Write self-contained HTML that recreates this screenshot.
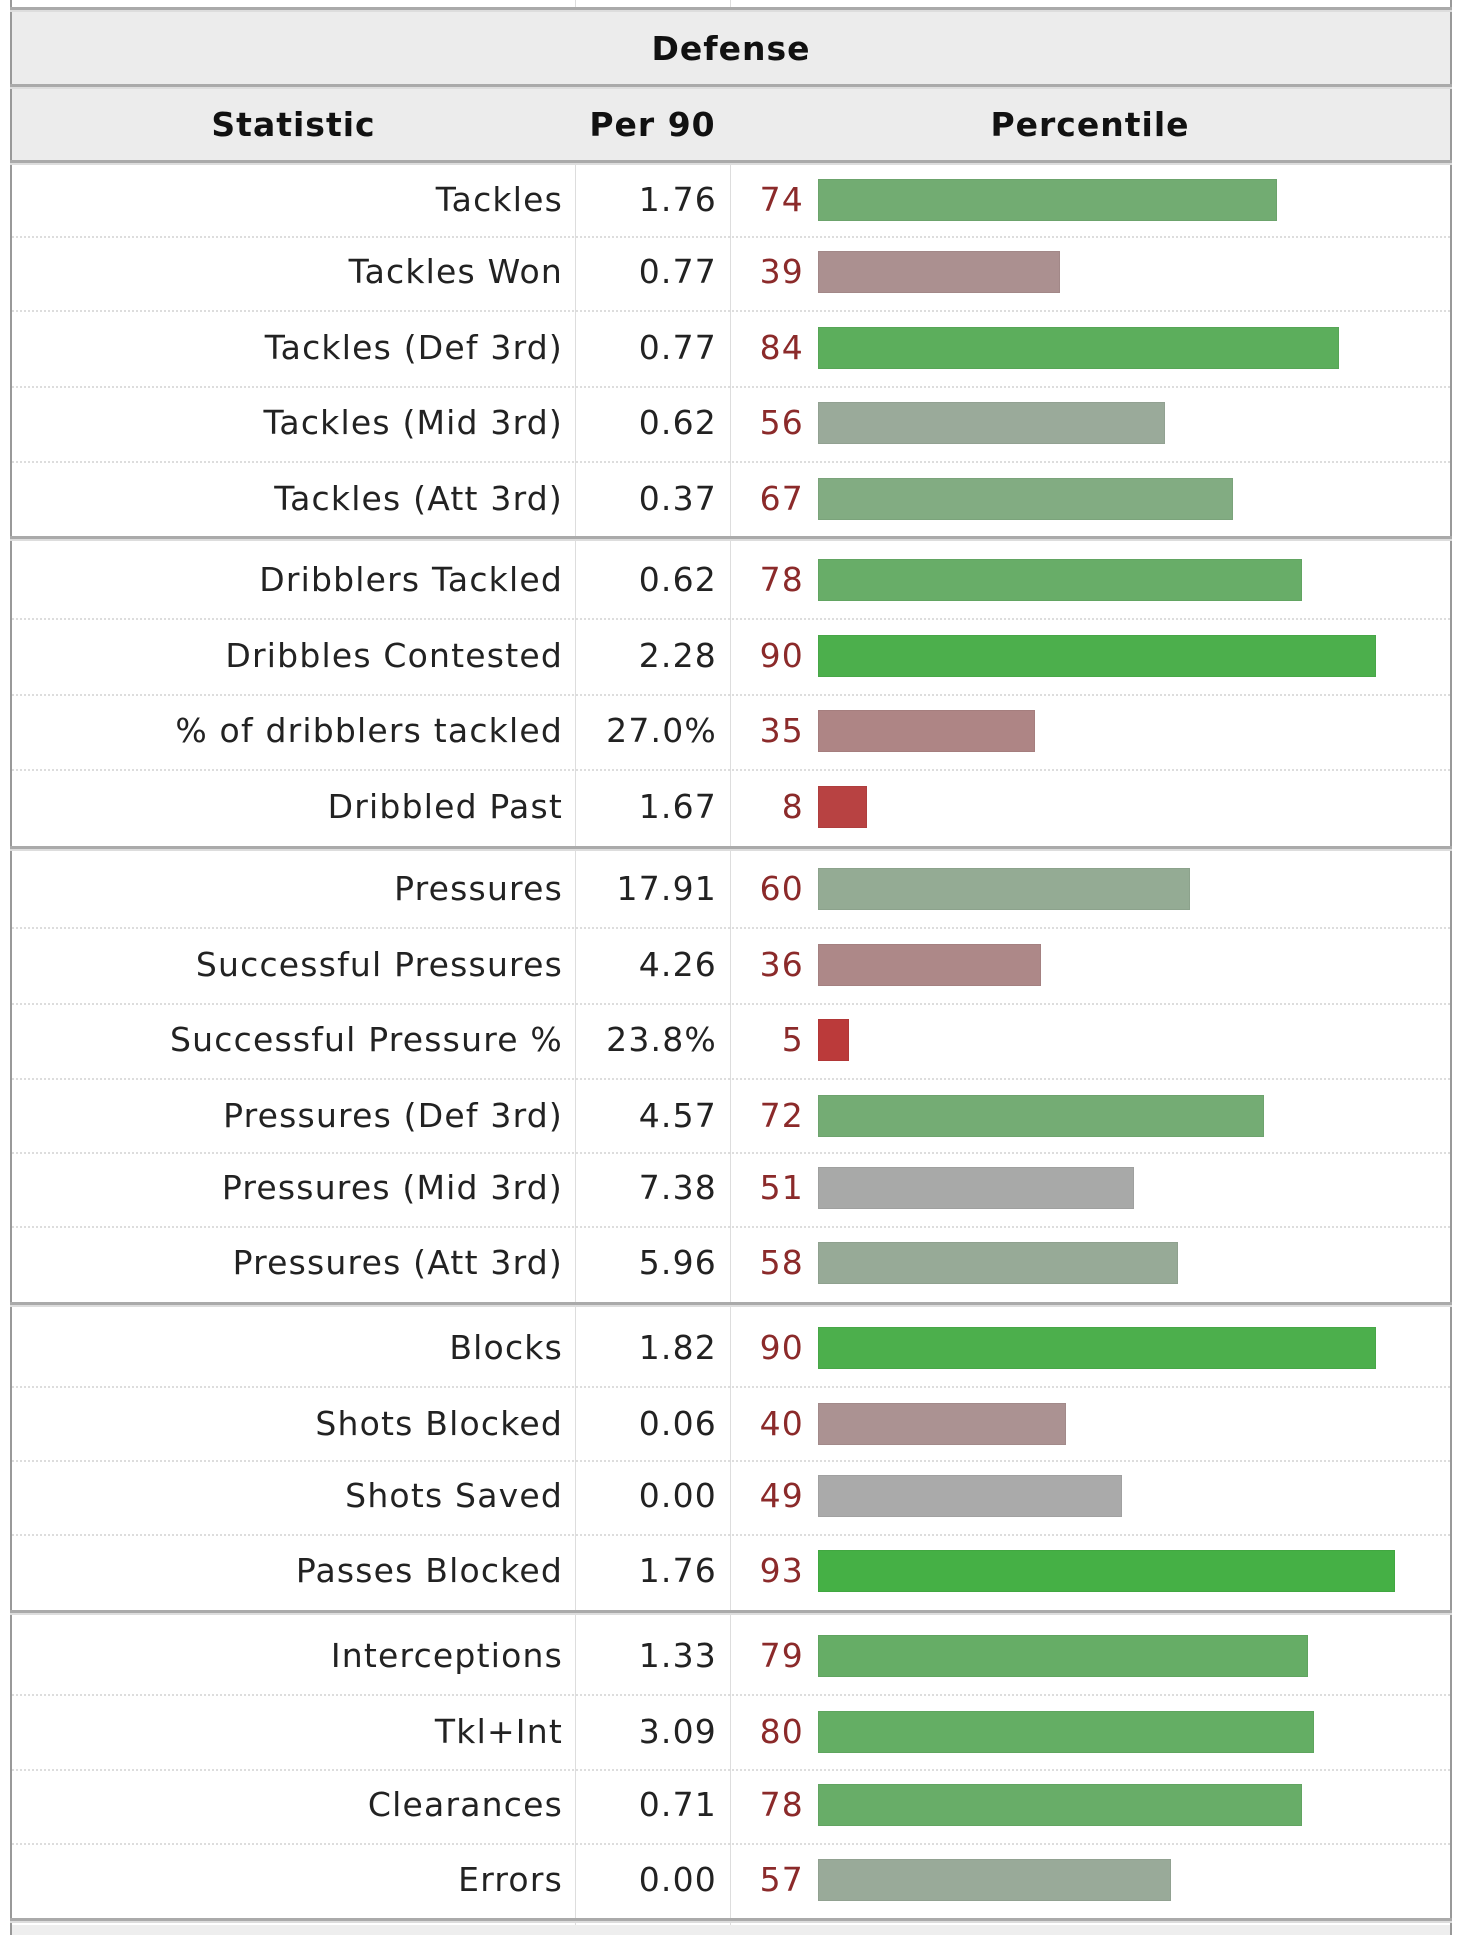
<!DOCTYPE html><html><head><style>
body{margin:0;width:1460px;height:1935px;background:#fff;position:relative;overflow:hidden;font-family:"DejaVu Sans","Liberation Sans",sans-serif;font-size:33px;letter-spacing:1.2px;color:#222}
div{position:absolute;box-sizing:border-box}
.hd{background:#ececec;font-weight:bold;text-align:center;color:#111;letter-spacing:1px}
.v{top:0;height:1935px;width:1px;background:#ddd}
.t{left:10px;width:1442px;height:5px;background:#aaa;border-bottom:2px solid #ddd}
.d{left:12px;width:1438px;height:0;border-top:2px dotted #ddd}
.r{left:0;width:1460px;height:42px;line-height:42px}
.s{left:0;width:563px;text-align:right}
.p{left:575px;width:142px;text-align:right}
.n{left:730px;width:74px;text-align:right;color:#8b2a2a}
.b{left:818px;top:0;height:42px;border:1px solid rgba(0,0,0,0.05)}
</style></head><body>
<div style="left:10px;top:0;width:1442px;height:1935px;border-left:2px solid #999;border-right:2px solid #999"></div>
<div class="v" style="left:575px"></div><div class="v" style="left:730px"></div>
<div class="hd" style="left:12px;top:12px;width:1438px;height:73px;line-height:73px">Defense</div>
<div class="hd" style="left:12px;top:89px;width:1438px;height:72px;line-height:72px"></div>
<div class="hd" style="left:12px;top:89px;width:563px;height:72px;line-height:72px;background:transparent">Statistic</div>
<div class="hd" style="left:575px;top:89px;width:155px;height:72px;line-height:72px;background:transparent">Per 90</div>
<div class="hd" style="left:730px;top:89px;width:720px;height:72px;line-height:72px;background:transparent">Percentile</div>
<div class="t" style="top:7px"></div><div class="t" style="top:84px"></div><div class="t" style="top:160px"></div>
<div class="t" style="top:536px"></div><div class="t" style="top:846px"></div><div class="t" style="top:1302px"></div><div class="t" style="top:1610px"></div><div class="t" style="top:1918px"></div>
<div style="left:12px;top:1925px;width:1438px;height:10px;background:#eee"></div>
<div class="d" style="top:236px"></div><div class="d" style="top:310px"></div><div class="d" style="top:386px"></div><div class="d" style="top:461px"></div>
<div class="d" style="top:618px"></div><div class="d" style="top:694px"></div><div class="d" style="top:769px"></div>
<div class="d" style="top:927px"></div><div class="d" style="top:1003px"></div><div class="d" style="top:1078px"></div><div class="d" style="top:1152px"></div><div class="d" style="top:1226px"></div>
<div class="d" style="top:1386px"></div><div class="d" style="top:1460px"></div><div class="d" style="top:1534px"></div>
<div class="d" style="top:1694px"></div><div class="d" style="top:1769px"></div><div class="d" style="top:1843px"></div>

<div class="r" style="top:179px"><div class="s">Tackles</div><div class="p">1.76</div><div class="n">74</div><div class="b" style="width:459px;background:#72ac72"></div></div>
<div class="r" style="top:251px"><div class="s">Tackles Won</div><div class="p">0.77</div><div class="n">39</div><div class="b" style="width:242px;background:#ab9090"></div></div>
<div class="r" style="top:327px"><div class="s">Tackles (Def 3rd)</div><div class="p">0.77</div><div class="n">84</div><div class="b" style="width:521px;background:#5cae5c"></div></div>
<div class="r" style="top:402px"><div class="s">Tackles (Mid 3rd)</div><div class="p">0.62</div><div class="n">56</div><div class="b" style="width:347px;background:#9aaa9a"></div></div>
<div class="r" style="top:478px"><div class="s">Tackles (Att 3rd)</div><div class="p">0.37</div><div class="n">67</div><div class="b" style="width:415px;background:#82ac82"></div></div>
<div class="r" style="top:559px"><div class="s">Dribblers Tackled</div><div class="p">0.62</div><div class="n">78</div><div class="b" style="width:484px;background:#68ad68"></div></div>
<div class="r" style="top:635px"><div class="s">Dribbles Contested</div><div class="p">2.28</div><div class="n">90</div><div class="b" style="width:558px;background:#4caf4c"></div></div>
<div class="r" style="top:710px"><div class="s">% of dribblers tackled</div><div class="p">27.0%</div><div class="n">35</div><div class="b" style="width:217px;background:#ae8585"></div></div>
<div class="r" style="top:786px"><div class="s">Dribbled Past</div><div class="p">1.67</div><div class="n">8</div><div class="b" style="width:49px;background:#b84242"></div></div>
<div class="r" style="top:868px"><div class="s">Pressures</div><div class="p">17.91</div><div class="n">60</div><div class="b" style="width:372px;background:#94ab94"></div></div>
<div class="r" style="top:944px"><div class="s">Successful Pressures</div><div class="p">4.26</div><div class="n">36</div><div class="b" style="width:223px;background:#ad8888"></div></div>
<div class="r" style="top:1019px"><div class="s">Successful Pressure %</div><div class="p">23.8%</div><div class="n">5</div><div class="b" style="width:31px;background:#bb3a3a"></div></div>
<div class="r" style="top:1095px"><div class="s">Pressures (Def 3rd)</div><div class="p">4.57</div><div class="n">72</div><div class="b" style="width:446px;background:#74ac74"></div></div>
<div class="r" style="top:1167px"><div class="s">Pressures (Mid 3rd)</div><div class="p">7.38</div><div class="n">51</div><div class="b" style="width:316px;background:#a8a9a8"></div></div>
<div class="r" style="top:1242px"><div class="s">Pressures (Att 3rd)</div><div class="p">5.96</div><div class="n">58</div><div class="b" style="width:360px;background:#97aa97"></div></div>
<div class="r" style="top:1327px"><div class="s">Blocks</div><div class="p">1.82</div><div class="n">90</div><div class="b" style="width:558px;background:#4caf4c"></div></div>
<div class="r" style="top:1403px"><div class="s">Shots Blocked</div><div class="p">0.06</div><div class="n">40</div><div class="b" style="width:248px;background:#ab9292"></div></div>
<div class="r" style="top:1475px"><div class="s">Shots Saved</div><div class="p">0.00</div><div class="n">49</div><div class="b" style="width:304px;background:#aaaaaa"></div></div>
<div class="r" style="top:1550px"><div class="s">Passes Blocked</div><div class="p">1.76</div><div class="n">93</div><div class="b" style="width:577px;background:#45b045"></div></div>
<div class="r" style="top:1635px"><div class="s">Interceptions</div><div class="p">1.33</div><div class="n">79</div><div class="b" style="width:490px;background:#66ad66"></div></div>
<div class="r" style="top:1711px"><div class="s">Tkl+Int</div><div class="p">3.09</div><div class="n">80</div><div class="b" style="width:496px;background:#64ae64"></div></div>
<div class="r" style="top:1784px"><div class="s">Clearances</div><div class="p">0.71</div><div class="n">78</div><div class="b" style="width:484px;background:#68ad68"></div></div>
<div class="r" style="top:1859px"><div class="s">Errors</div><div class="p">0.00</div><div class="n">57</div><div class="b" style="width:353px;background:#99aa99"></div></div>
</body></html>
